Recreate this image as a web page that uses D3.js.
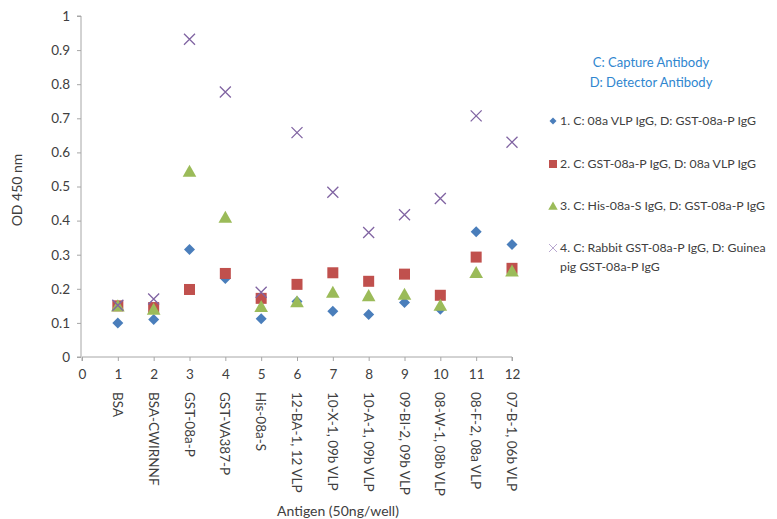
<!DOCTYPE html>
<html>
<head>
<meta charset="utf-8">
<script src="https://cdn.jsdelivr.net/npm/d3@7"></script>
<style>
  body { margin: 0; background: #fff; }
  text { font-family: Lato, "Liberation Sans", sans-serif; }
</style>
</head>
<body>
<div class="chart"></div>
<script>
// antigen index and names
var antigens = ["BSA", "BSA-CWIRNNF", "GST-08a-P", "GST-VA387-P", "His-08a-S",
  "12-BA-1, 12 VLP", "10-X-1, 09b VLP", "10-A-1, 09b VLP", "09-BI-2, 09b VLP",
  "08-W-1, 08b VLP", "08-F-2, 08a VLP", "07-B-1, 06b VLP"];
var xTicks = [0, 1, 2, 3, 4, 5, 6, 7, 8, 9, 10, 11, 12];
var yTicks = [0, 0.1, 0.2, 0.3, 0.4, 0.5, 0.6, 0.7, 0.8, 0.9, 1];

// OD 450 readings per antibody pair
var series1 = [0.10, 0.11, 0.315, 0.23, 0.112, 0.163, 0.134, 0.125, 0.16, 0.14, 0.367, 0.33];
var series2 = [0.15, 0.145, 0.198, 0.245, 0.172, 0.213, 0.247, 0.222, 0.243, 0.181, 0.293, 0.26];
var series3 = [0.15, 0.14, 0.545, 0.41, 0.148, 0.162, 0.19, 0.18, 0.184, 0.152, 0.248, 0.252];
var series4 = [0.152, 0.17, 0.932, 0.777, 0.19, 0.658, 0.483, 0.365, 0.417, 0.465, 0.707, 0.63];

var seriesNames = [
  ["1. C: 08a VLP IgG, D: GST-08a-P IgG"],
  ["2. C: GST-08a-P IgG, D: 08a VLP IgG"],
  ["3. C: His-08a-S IgG, D: GST-08a-P IgG"],
  ["4. C: Rabbit GST-08a-P IgG, D: Guinea", "pig GST-08a-P IgG"]
];

var svgWidth = 777, svgHeight = 519;
var margin = { top: 16, left: 82 };
var width = 430, height = 341;

var svg = d3.select(".chart").append("svg")
  .attr("width", svgWidth)
  .attr("height", svgHeight);

var chartGroup = svg.append("g")
  .attr("transform", `translate(${margin.left}, ${margin.top})`);

var xScale = d3.scaleLinear().domain([0, 12]).range([0, width]);
var yScale = d3.scaleLinear().domain([0, 1]).range([height, 0]);

var axisColor = "#A6A6A6", textColor = "#404040";

// y axis
var yAxis = chartGroup.append("g")
  .attr("transform", "translate(-1,0)")
  .call(d3.axisLeft(yScale).tickValues(yTicks).tickSize(4).tickPadding(7).tickFormat(d3.format("")));
// x axis
var xAxis = chartGroup.append("g")
  .attr("transform", `translate(0, ${height})`)
  .call(d3.axisBottom(xScale).tickValues(xTicks).tickSize(4).tickPadding(8));

[xAxis, yAxis].forEach(function (ax) {
  ax.select(".domain").attr("stroke", axisColor);
  ax.selectAll(".tick line").attr("stroke", axisColor);
  ax.selectAll(".tick text").attr("fill", textColor)
    .attr("font-size", "13.5px")
    .style("font-family", "Lato, 'Liberation Sans', sans-serif");
});
xAxis.select(".domain").attr("d", `M0,4V0H${width}V4`);
yAxis.select(".domain").attr("d", `M-4,0H0V${height}H-4`);

// rotated antigen names
chartGroup.selectAll(".antigen")
  .data(antigens)
  .enter()
  .append("text")
  .attr("class", "antigen")
  .attr("transform", (d, i) => `translate(${xScale(i + 1) - 5}, ${height + 35}) rotate(90)`)
  .attr("font-size", "13.5px")
  .attr("fill", textColor)
  .text(d => d);

// axis titles
svg.append("text")
  .attr("x", 338).attr("y", 516)
  .attr("text-anchor", "middle")
  .attr("font-size", "14px")
  .attr("fill", textColor)
  .text("Antigen (50ng/well)");

svg.append("text")
  .attr("transform", "translate(22, 190) rotate(-90)")
  .attr("text-anchor", "middle")
  .attr("font-size", "14px")
  .attr("fill", textColor)
  .text("OD 450 nm");

// marker shapes
var colors = ["#4A7EBB", "#C0504D", "#9BBB59", "#8064A2"];
function marker(g, k, s) {
  if (k === 0) {
    g.append("path").attr("d", `M0,${-s}L${s},0L0,${s}L${-s},0Z`).attr("fill", colors[0]);
  } else if (k === 1) {
    g.append("rect").attr("x", -s).attr("y", -s).attr("width", 2 * s).attr("height", 2 * s)
      .attr("fill", colors[1]);
  } else if (k === 2) {
    g.append("path").attr("d", `M0,${-s}L${s * 1.05},${s * 0.85}L${-s * 1.05},${s * 0.85}Z`)
      .attr("fill", colors[2]);
  } else {
    g.append("path").attr("d", `M${-s},${-s}L${s},${s}M${-s},${s}L${s},${-s}`)
      .attr("stroke", colors[3]).attr("stroke-width", 1.3).attr("fill", "none");
  }
}

var allSeries = [series1, series2, series3, series4];
var sizes = [5.5, 5.5, 6.5, 5.5];
allSeries.forEach(function (vals, k) {
  vals.forEach(function (v, i) {
    var g = chartGroup.append("g")
      .attr("transform", `translate(${xScale(i + 1)}, ${yScale(v)})`);
    marker(g, k, sizes[k]);
  });
});

// legend title
var legendTitle = svg.append("g");
["C: Capture Antibody", "D: Detector Antibody"].forEach(function (t, i) {
  legendTitle.append("text")
    .attr("x", 651).attr("y", 67 + i * 20)
    .attr("text-anchor", "middle")
    .attr("font-size", "13px")
    .attr("fill", "#2F86CF")
    .text(t);
});

// legend entries
var legendY = [121, 164, 206, 248];
var legendSizes = [3.5, 4, 4.5, 4];
seriesNames.forEach(function (lines, k) {
  var g = svg.append("g").attr("transform", `translate(553, ${legendY[k]})`);
  marker(g, k, legendSizes[k]);
  if (k === 3) g.select("path").attr("stroke", "#B9A8D0").attr("stroke-width", 1);
  lines.forEach(function (t, j) {
    g.append("text")
      .attr("x", 7).attr("y", 4 + j * 19)
      .attr("font-size", "12.3px")
      .attr("fill", textColor)
      .text(t);
  });
});
</script>
</body>
</html>
